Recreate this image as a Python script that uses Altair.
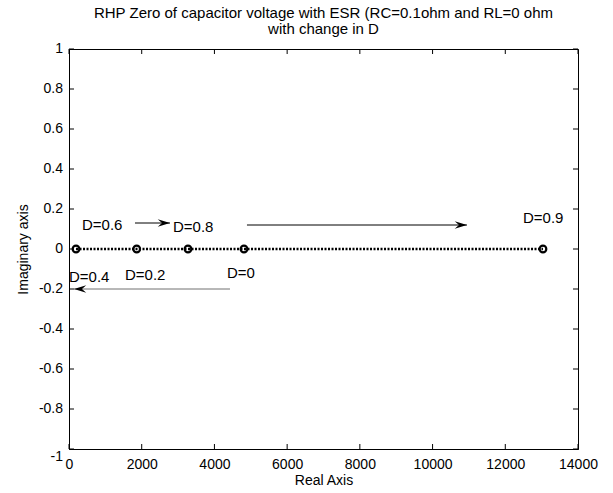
import altair as alt
import pandas as pd

# ---- data ----
zero_re = [4813, 1862, 193, 3273, 13036]
zero_im = [0, 0, 0, 0, 0]

x_ticks = [0, 2000, 4000, 6000, 8000, 10000, 12000, 14000]
y_ticks = [-1, -0.8, -0.6, -0.4, -0.2, 0, 0.2, 0.4, 0.6, 0.8, 1]
y_tick_labels = ["-1", "-0.8", "-0.6", "-0.4", "-0.2", "0", "0.2", "0.4", "0.6", "0.8", "1"]

label_text = ["D=0.6", "D=0.8", "D=0.9", "D=0.4", "D=0.2", "D=0"]
label_x = [357, 2860, 12486, 0, 1540, 4345]
label_y = [0.12, 0.11, 0.155, -0.14, -0.13, -0.12]

arrow_x0 = [1815, 4895, 4428]
arrow_x1 = [2778, 10946, 137]
arrow_y = [0.13, 0.12, -0.2]
arrow_col = ["#000000", "#000000", "#707070"]
arrow_ang = [0, 0, 180]

W, H = 509, 400
FONT = "Liberation Sans"

pts = pd.DataFrame({"re": zero_re, "im": zero_im}).sort_values("re")
labels = pd.DataFrame({"t": label_text, "x": label_x, "y": label_y})
arrows = pd.DataFrame({"x0": arrow_x0, "x1": arrow_x1, "y": arrow_y,
                       "c": arrow_col, "a": arrow_ang})
xt = pd.DataFrame({"v": x_ticks})
yt = pd.DataFrame({"v": y_ticks, "lab": y_tick_labels})

xs = alt.Scale(domain=[0, 14000], nice=False, zero=False)
ys = alt.Scale(domain=[-1, 1], nice=False, zero=False)

xaxis = alt.Axis(values=x_ticks, tickSize=0, labelPadding=8, grid=False,
                 title="Real Axis", titlePadding=2, format="d",
                 labelFont=FONT, labelFontSize=14, labelColor="black",
                 titleFont=FONT, titleFontSize=14, titleFontWeight="normal",
                 titleColor="black", domainColor="black", labelFlush=False)
yaxis = alt.Axis(values=y_ticks, tickSize=0, labels=False, grid=False,
                 title="Imaginary axis", titlePadding=38,
                 titleFont=FONT, titleFontSize=14, titleFontWeight="normal",
                 titleColor="black", domainColor="black")

line = alt.Chart(pts).mark_line(color="black", strokeWidth=2.4,
                                strokeDash=[2, 1.5]).encode(
    x=alt.X("re:Q", scale=xs, axis=xaxis),
    y=alt.Y("im:Q", scale=ys, axis=yaxis),
)
circles = alt.Chart(pts).mark_point(shape="circle", size=45, filled=False,
                                    color="black", strokeWidth=2.2, opacity=1).encode(
    x=alt.X("re:Q", scale=xs),
    y=alt.Y("im:Q", scale=ys),
)
txt = alt.Chart(labels).mark_text(align="left", baseline="middle", font=FONT,
                                  fontSize=15, color="black").encode(
    x=alt.X("x:Q", scale=xs),
    y=alt.Y("y:Q", scale=ys),
    text="t:N",
)
arr_line = alt.Chart(arrows).mark_rule(strokeWidth=1).encode(
    x=alt.X("x0:Q", scale=xs),
    x2="x1:Q",
    y=alt.Y("y:Q", scale=ys),
    color=alt.Color("c:N", scale=None),
)
arr_head = alt.Chart(arrows).mark_point(
    shape="M0,0 L-2,-0.62 L-1.3,0 L-2,0.62 Z", size=150, filled=True,
    opacity=1, color="black").encode(
    x=alt.X("x1:Q", scale=xs),
    y=alt.Y("y:Q", scale=ys),
    angle=alt.Angle("a:Q", scale=None),
)

# y tick labels (the -1 label sits a little lower, as in the reference)
ylab = alt.Chart(yt).transform_filter("datum.v > -1").mark_text(
    align="right", baseline="middle", font=FONT, fontSize=14, color="black",
    dx=-6).encode(
    x=alt.value(0), y=alt.Y("v:Q", scale=ys), text="lab:N")
ylab_m1 = alt.Chart(yt).transform_filter("datum.v == -1").mark_text(
    align="right", baseline="middle", font=FONT, fontSize=14, color="black",
    dx=-6, dy=8).encode(
    x=alt.value(0), y=alt.Y("v:Q", scale=ys), text="lab:N")

tk = 5
xb = alt.Chart(xt).mark_rule(color="black").encode(
    x=alt.X("v:Q", scale=xs), y=alt.value(H), y2=alt.value(H - tk))
xtop = alt.Chart(xt).mark_rule(color="black").encode(
    x=alt.X("v:Q", scale=xs), y=alt.value(0), y2=alt.value(tk))
yl = alt.Chart(yt).mark_rule(color="black").encode(
    y=alt.Y("v:Q", scale=ys), x=alt.value(0), x2=alt.value(tk))
yr = alt.Chart(yt).mark_rule(color="black").encode(
    y=alt.Y("v:Q", scale=ys), x=alt.value(W - tk), x2=alt.value(W))

chart = alt.layer(line, xb, xtop, yl, yr, circles, arr_line, arr_head, txt,
                  ylab, ylab_m1).properties(
    width=W, height=H,
    background="white",
    title=alt.TitleParams(
        ["RHP Zero of capacitor voltage with ESR (RC=0.1ohm and RL=0 ohm",
         "with change in D"],
        font=FONT, fontSize=15, fontWeight="normal", color="black",
        anchor="middle", offset=5, lineHeight=16),
    padding={"left": 69, "top": 49, "right": 35, "bottom": 44},
    autosize=alt.AutoSizeParams(type="none"),
).configure_view(stroke="black", strokeWidth=1)

chart.save("out.html", embed_options={"renderer": "svg", "actions": False})
